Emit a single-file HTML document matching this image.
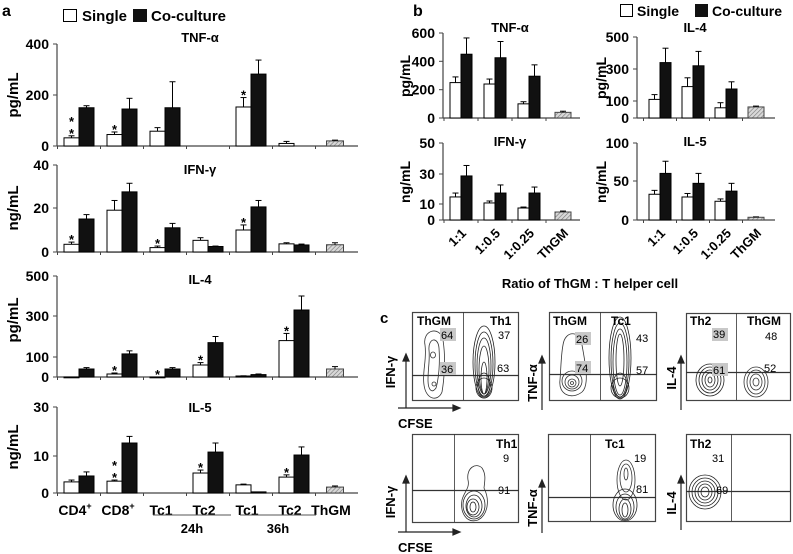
<!DOCTYPE html>
<html><head><meta charset="utf-8"><style>
html,body{margin:0;padding:0;background:#fff;}
svg{display:block;font-family:"Liberation Sans",Arial,sans-serif;}
.b{font-weight:bold;}
</style></head><body>
<svg id="fig" width="793" height="554" viewBox="0 0 793 554" xmlns="http://www.w3.org/2000/svg">
<defs>
<pattern id="hatch" patternUnits="userSpaceOnUse" width="3" height="3" patternTransform="rotate(45)">
<rect width="3" height="3" fill="#d8d8d8"/><line x1="0" y1="0" x2="0" y2="3" stroke="#777" stroke-width="1.2"/>
</pattern>
</defs>
<!-- panel labels and legends -->
<text x="2" y="16" class="b" font-size="16">a</text>
<g>
<rect x="63.5" y="9.5" width="13" height="12" fill="#fff" stroke="#000"/>
<text x="82" y="21" class="b" font-size="15">Single</text>
<rect x="133" y="9" width="14" height="13" fill="#111"/>
<text x="151" y="21" class="b" font-size="15">Co-culture</text>
</g>
<text x="413" y="16" class="b" font-size="16">b</text>
<g>
<rect x="620.5" y="4.5" width="12" height="12" fill="#fff" stroke="#000"/>
<text x="637" y="16" class="b" font-size="14">Single</text>
<rect x="695" y="4" width="13" height="13" fill="#111"/>
<text x="712" y="16" class="b" font-size="14">Co-culture</text>
</g>
<text x="590" y="288" class="b" font-size="13" text-anchor="middle">Ratio of ThGM : T helper cell</text>
<g id="charts"></g>
<!-- x labels for panel a -->
<g>
<line x1="153" y1="515" x2="231" y2="515" stroke="#555" stroke-width="1"/>
<line x1="240" y1="515" x2="316" y2="515" stroke="#555" stroke-width="1"/>
<text x="192" y="533" class="b" font-size="13" text-anchor="middle">24h</text>
<text x="278" y="533" class="b" font-size="13" text-anchor="middle">36h</text>
</g>
<!-- panel c -->
<text x="380" y="323" class="b" font-size="15">c</text>
<g id="panelc" fill="none" stroke="#333" stroke-width="0.8" font-size="11">
<!-- axis arrows -->
<g stroke="#222" stroke-width="1.2">
<line x1="406" y1="358" x2="406" y2="408"/><line x1="398" y1="408" x2="457" y2="408"/>
<polygon points="406,354 403,361 409,361" fill="#222"/><polygon points="460,408 453,405 453,411" fill="#222"/>
<line x1="406" y1="480" x2="406" y2="532"/><line x1="398" y1="532" x2="457" y2="532"/>
<polygon points="406,476 403,483 409,483" fill="#222"/><polygon points="460,532 453,529 453,535" fill="#222"/>
<line x1="542" y1="360" x2="542" y2="410"/><polygon points="542,356 539,363 545,363" fill="#222"/>
<line x1="542" y1="484" x2="542" y2="533"/><polygon points="542,480 539,487 545,487" fill="#222"/>
<line x1="681" y1="360" x2="681" y2="410"/><polygon points="681,356 678,363 684,363" fill="#222"/>
<line x1="681" y1="480" x2="681" y2="530"/><polygon points="681,476 678,483 684,483" fill="#222"/>
</g>
<g fill="#000" stroke="none" class="b" font-size="13">
<text transform="translate(395,372) rotate(-90)" text-anchor="middle">IFN-γ</text>
<text transform="translate(395,502) rotate(-90)" text-anchor="middle">IFN-γ</text>
<text transform="translate(537,383) rotate(-90)" text-anchor="middle">TNF-α</text>
<text transform="translate(537,508) rotate(-90)" text-anchor="middle">TNF-α</text>
<text transform="translate(676,378) rotate(-90)" text-anchor="middle">IL-4</text>
<text transform="translate(676,503) rotate(-90)" text-anchor="middle">IL-4</text>
<text x="398" y="428">CFSE</text>
<text x="398" y="552">CFSE</text>
</g>
<!-- plot 1 -->
<g>
<rect x="412.5" y="312.5" width="106" height="88" stroke="#444" stroke-width="1.2"/>
<line x1="463.5" y1="312" x2="463.5" y2="400" stroke="#333"/>
<line x1="412" y1="375.5" x2="519" y2="375.5" stroke="#333" stroke-width="1.2"/>
<path d="M425,345 C422,330 440,325 443,340 C446,360 444,380 442,392 C438,402 426,400 424,385 C422,372 427,360 425,345Z"/>
<path d="M429,350 C428,338 438,336 439,348 C440,362 439,378 436,388 C432,394 428,390 428,380 C428,368 430,360 429,350Z"/>
<ellipse cx="433" cy="355" rx="2.5" ry="3"/><ellipse cx="434" cy="384" rx="2" ry="2"/>
<g stroke="#222"><ellipse cx="484" cy="362" rx="11" ry="36"/><ellipse cx="484" cy="364" rx="9" ry="32"/><ellipse cx="484" cy="366" rx="7" ry="28"/><ellipse cx="484" cy="370" rx="5" ry="24"/><ellipse cx="484" cy="378" rx="3" ry="16"/><ellipse cx="484" cy="385" rx="6" ry="12"/><ellipse cx="484" cy="388" rx="8" ry="10"/></g>
<rect x="440" y="328" width="16" height="13" fill="#c8c8c8" stroke="none"/>
<rect x="440" y="362" width="16" height="13" fill="#c8c8c8" stroke="none"/>
<g fill="#000" stroke="none"><text x="417" y="325" class="b" font-size="12">ThGM</text><text x="490" y="325" class="b" font-size="12">Th1</text>
<text x="441" y="339">64</text><text x="441" y="373">36</text><text x="498" y="339">37</text><text x="497" y="372">63</text></g>
</g>
<!-- plot 2 -->
<g>
<rect x="549.5" y="312.5" width="107" height="88" stroke="#444" stroke-width="1.2"/>
<line x1="600.5" y1="312" x2="600.5" y2="400" stroke="#333"/>
<line x1="549" y1="374.5" x2="657" y2="374.5" stroke="#333" stroke-width="1.2"/>
<path d="M563,345 C565,330 580,330 582,345 C585,362 590,385 582,392 C572,400 558,395 560,380 C561,368 561,355 563,345Z"/>
<ellipse cx="572" cy="381" rx="10" ry="10"/><ellipse cx="572" cy="382" rx="7" ry="7"/><ellipse cx="572" cy="383" rx="4" ry="4"/><ellipse cx="572" cy="383" rx="1.5" ry="1.5"/>
<g stroke="#222"><ellipse cx="620" cy="358" rx="11" ry="41"/><ellipse cx="620" cy="360" rx="9" ry="37"/><ellipse cx="620" cy="362" rx="7" ry="33"/><ellipse cx="620" cy="360" rx="4" ry="26"/><ellipse cx="620" cy="385" rx="7" ry="12"/><ellipse cx="620" cy="388" rx="9" ry="10"/></g>
<rect x="575" y="332" width="16" height="13" fill="#c8c8c8" stroke="none"/>
<rect x="575" y="361" width="16" height="13" fill="#c8c8c8" stroke="none"/>
<g fill="#000" stroke="none"><text x="553" y="325" class="b" font-size="12">ThGM</text><text x="611" y="325" class="b" font-size="12">Tc1</text>
<text x="576" y="343">26</text><text x="576" y="372">74</text><text x="636" y="342">43</text><text x="636" y="374">57</text></g>
</g>
<!-- plot 3 -->
<g>
<rect x="686.5" y="313.5" width="104" height="87" stroke="#444" stroke-width="1.2"/>
<line x1="736.5" y1="313" x2="736.5" y2="400" stroke="#333"/>
<line x1="686" y1="372.5" x2="790" y2="372.5" stroke="#333" stroke-width="1.2"/>
<g stroke="#222"><ellipse cx="710" cy="380" rx="14" ry="16"/><ellipse cx="710" cy="380" rx="11" ry="13"/><ellipse cx="710" cy="380" rx="8" ry="10"/><ellipse cx="710" cy="380" rx="5" ry="7"/><ellipse cx="710" cy="380" rx="2" ry="3"/></g>
<g><ellipse cx="756" cy="382" rx="12" ry="15"/><ellipse cx="756" cy="382" rx="9" ry="12"/><ellipse cx="756" cy="382" rx="6" ry="8"/><ellipse cx="756" cy="382" rx="3" ry="4"/></g>
<rect x="712" y="328" width="16" height="13" fill="#c8c8c8" stroke="none"/>
<rect x="712" y="363" width="16" height="13" fill="#c8c8c8" stroke="none"/>
<g fill="#000" stroke="none"><text x="690" y="325" class="b" font-size="12">Th2</text><text x="747" y="325" class="b" font-size="12">ThGM</text>
<text x="713" y="338">39</text><text x="713" y="374">61</text><text x="765" y="340">48</text><text x="764" y="372">52</text></g>
</g>
<!-- plot 4 -->
<g>
<rect x="412.5" y="434.5" width="106" height="88" stroke="#444" stroke-width="1.2"/>
<line x1="454.5" y1="434" x2="454.5" y2="522" stroke="#333"/>
<line x1="412" y1="490.5" x2="519" y2="490.5" stroke="#333" stroke-width="1.2"/>
<path d="M468,480 C466,468 476,462 482,468 C486,474 485,480 484,488 C490,500 488,515 478,520 C466,524 460,512 462,500 C464,492 470,488 468,480Z"/>
<g stroke="#222"><ellipse cx="474" cy="505" rx="11" ry="14"/><ellipse cx="474" cy="506" rx="8" ry="11"/><ellipse cx="473" cy="507" rx="6" ry="8"/><ellipse cx="473" cy="507" rx="3" ry="5"/></g>
<g fill="#000" stroke="none"><text x="496" y="448" class="b" font-size="12">Th1</text><text x="503" y="462">9</text><text x="498" y="494">91</text></g>
</g>
<!-- plot 5 -->
<g>
<rect x="548.5" y="434.5" width="107" height="87" stroke="#444" stroke-width="1.2"/>
<line x1="590.5" y1="434" x2="590.5" y2="521" stroke="#333"/>
<line x1="548" y1="497.5" x2="656" y2="497.5" stroke="#333" stroke-width="1.2"/>
<ellipse cx="626" cy="480" rx="9" ry="20"/><ellipse cx="626" cy="478" rx="6" ry="14"/><ellipse cx="626" cy="474" rx="2" ry="6"/>
<g stroke="#222"><ellipse cx="625" cy="505" rx="12" ry="16"/><ellipse cx="625" cy="507" rx="9" ry="13"/><ellipse cx="625" cy="509" rx="6" ry="10"/><ellipse cx="625" cy="510" rx="3" ry="7"/></g>
<g fill="#000" stroke="none"><text x="605" y="448" class="b" font-size="12">Tc1</text><text x="634" y="462">19</text><text x="636" y="493">81</text></g>
</g>
<!-- plot 6 -->
<g>
<rect x="686.5" y="434.5" width="104" height="87" stroke="#444" stroke-width="1.2"/>
<line x1="731.5" y1="434" x2="731.5" y2="521" stroke="#333"/>
<line x1="686" y1="491.5" x2="790" y2="491.5" stroke="#333" stroke-width="1.2"/>
<g stroke="#222"><ellipse cx="705" cy="492" rx="16" ry="17"/><ellipse cx="705" cy="492" rx="13" ry="14"/><ellipse cx="705" cy="492" rx="10" ry="11"/><ellipse cx="705" cy="492" rx="7" ry="8"/><ellipse cx="705" cy="492" rx="4" ry="5"/></g>
<g fill="#000" stroke="none"><text x="690" y="448" class="b" font-size="12">Th2</text><text x="712" y="462">31</text><text x="716" y="494">69</text></g>
</g>
</g>
</svg>
<script>
// ---------- Panel a data ----------
const aGroups = ["CD4+", "CD8+", "Tc1", "Tc2", "Tc1", "Tc2"];
const aThgmLabel = "ThGM";
const aTnfSingle = [32, 45, 58, null, 153, 10];
const aTnfSingleErr = [40, 55, 72, null, 190, 18];
const aTnfCo = [150, 145, 150, null, 282, null];
const aTnfCoErr = [158, 187, 252, null, 337, null];
const aTnfThgm = [20, 23];
const aTnfStars = [2, 1, 0, 0, 1, 0];
const aTnfTicks = [0, 200, 400];

const aIfnSingle = [3.5, 19, 2, 5.3, 10, 3.7];
const aIfnSingleErr = [4.5, 23.5, 2.7, 6.5, 12.3, 4.2];
const aIfnCo = [15, 27.5, 11, 2.5, 20.5, 3.2];
const aIfnCoErr = [17, 31.5, 13, 2.7, 23.5, 3.6];
const aIfnThgm = [3.3, 4.2];
const aIfnStars = [1, 0, 1, 0, 1, 0];
const aIfnTicks = [0, 20, 40];

const aIl4Single = [0, 15, 0, 60, 5, 180];
const aIl4SingleErr = [0, 20, 0, 72, 6, 215];
const aIl4Co = [40, 115, 40, 170, 12, 330];
const aIl4CoErr = [47, 130, 47, 200, 15, 400];
const aIl4Thgm = [40, 52];
const aIl4Stars = [0, 1, 1, 1, 0, 1];
const aIl4Ticks = [0, 100, 300, 500];

const aIl5Single = [3.0, 3.2, null, 5.4, 2.2, 4.3];
const aIl5SingleErr = [3.5, 3.5, null, 6.2, 2.4, 4.9];
const aIl5Co = [4.6, 15.3, null, 11.6, 0.3, 10.4];
const aIl5CoErr = [5.7, 18, null, 15.3, 0.3, 13.7];
const aIl5Thgm = [1.6, 1.9];
const aIl5Stars = [0, 2, 0, 1, 0, 1];
const aIl5Ticks = [0, 10, 30];

// ---------- Panel b data ----------
const bRatios = ["1:1", "1:0.5", "1:0.25"];
const bTnfSingle = [250, 240, 100];
const bTnfSingleErr = [290, 275, 115];
const bTnfCo = [450, 425, 295];
const bTnfCoErr = [565, 540, 375];
const bTnfThgm = [40, 48];
const bTnfTicks = [0, 200, 400, 600];

const bIl4Single = [110, 190, 60];
const bIl4SingleErr = [140, 245, 90];
const bIl4Co = [340, 320, 175];
const bIl4CoErr = [430, 410, 220];
const bIl4Thgm = [65, 70];
const bIl4Ticks = [0, 100, 300, 500];

const bIfnSingle = [14.7, 10.7, 7.5];
const bIfnSingleErr = [17.3, 12, 8.1];
const bIfnCo = [28.7, 17.3, 17.3];
const bIfnCoErr = [35.5, 22.7, 21.3];
const bIfnThgm = [5, 5.6];
const bIfnTicks = [0, 10, 30, 50];

const bIl5Single = [33, 29.5, 24];
const bIl5SingleErr = [38, 34, 27];
const bIl5Co = [60, 47, 37];
const bIl5CoErr = [76, 60, 47];
const bIl5Thgm = [3.5, 4];
const bIl5Ticks = [0, 50, 100];

const NS = "http://www.w3.org/2000/svg";
const root = document.getElementById("charts");
function el(tag, attrs, parent) {
  const e = document.createElementNS(NS, tag);
  for (const k in attrs) e.setAttribute(k, attrs[k]);
  (parent || root).appendChild(e);
  return e;
}
// piecewise-linear y scale: pixel positions for first and last tick, with optional per-tick pixel positions
function makeY(ticks, px) {
  return v => {
    for (let i = 0; i < ticks.length - 1; i++) {
      if (v <= ticks[i + 1] || i === ticks.length - 2) {
        const t = (v - ticks[i]) / (ticks[i + 1] - ticks[i]);
        return px[i] + t * (px[i + 1] - px[i]);
      }
    }
  };
}

function drawChart(L, name, title, ylab, ticks, single, singleErr, co, coErr, thgm, stars, cats, catMode) {
  const g = el("g", {});
  
  
  const y = makeY(ticks, L.tickPx);
  const n = single.length;
  const x = i => L.x0 + i * L.step;
  const base = y(0);
  // axes
  el("line", {x1: L.axis, y1: base, x2: L.axis, y2: y(ticks[ticks.length - 1]), stroke: "#444", "stroke-width": 1.2}, g);
  el("line", {x1: L.axis, y1: base, x2: L.right, y2: base, stroke: "#444", "stroke-width": 1.2}, g);
  ticks.forEach(t => {
    const yy = y(t);
    el("line", {x1: L.axis - 4, y1: yy, x2: L.axis, y2: yy, stroke: "#444"}, g);
    const tx = el("text", {x: L.axis - 8, y: yy + L.fs * 0.36, "text-anchor": "end", "font-size": L.fs, "font-weight": "bold"}, g);
    
    
    tx.textContent = t;
  });
  for (let i = 0; i <= n; i++) {
    const xx = x(i) - L.step / 2;
    el("line", {x1: xx, y1: base, x2: xx, y2: base + 3, stroke: "#444"}, g);
  }
  const tt = el("text", {x: L.titleX, y: L.titleY, "text-anchor": "middle", "font-size": L.tfs, "font-weight": "bold"}, g);
  
  
  tt.textContent = title;
  const yl = el("text", {transform: `translate(${L.ylX},${L.ylY}) rotate(-90)`, "text-anchor": "middle", "font-size": L.yfs, "font-weight": "bold"}, g);
  
  
  yl.textContent = ylab;
  const w = L.bw;
  function bar(cx, v, e, fill, nm) {
    if (v === null) return null;
    const top = y(v);
    const r = el("rect", {x: cx, y: Math.min(top, base), width: w, height: Math.max(0.8, base - top), fill: fill, stroke: "#000", "stroke-width": 1}, g);
    
    
    const ye = y(e);
    if (e > v) {
      const mid = cx + w / 2;
      el("line", {x1: mid, y1: top, x2: mid, y2: ye, stroke: "#000", "stroke-width": 1}, g);
      el("line", {x1: mid - 3, y1: ye, x2: mid + 3, y2: ye, stroke: "#000", "stroke-width": 1}, g);
    }
    return ye;
  }
  for (let i = 0; i < n; i++) {
    const c = x(i);
    const ys = bar(c - w, single[i], singleErr[i], "#fff", "bar-single");
    bar(c, co[i], coErr[i], "#111", "bar-coculture");
    if (stars && stars[i]) {
      const sy = (ys !== null && ys !== undefined ? ys : base) - 4;
      for (let k = 0; k < stars[i]; k++) {
        const st = el("text", {x: c - w / 2, y: sy - k * 12 + 6, "text-anchor": "middle", "font-size": 13, "font-weight": "bold"}, g);
        
        
        st.textContent = "*";
      }
    }
    if (cats) catLabel(g, L, c, base, cats[i], catMode);
  }
  // ThGM hatched bar
  const cT = x(n) + L.thOff;
  const top = y(thgm[0]);
  const hb = el("rect", {x: cT - L.thw / 2, y: top, width: L.thw, height: base - top, fill: "url(#hatch)", stroke: "#444", "stroke-width": 1}, g);
  
  
  const ye = y(thgm[1]);
  el("line", {x1: cT, y1: top, x2: cT, y2: ye, stroke: "#000"}, g);
  el("line", {x1: cT - 3, y1: ye, x2: cT + 3, y2: ye, stroke: "#000"}, g);
  if (cats) catLabel(g, L, cT, base, aThgmLabel, catMode);
}
function catLabel(g, L, cx, base, txt, mode) {
  let t;
  if (mode === "rot") {
    t = el("text", {transform: `translate(${cx + 6},${base + 14}) rotate(-45)`, "text-anchor": "end", "font-size": 13, "font-weight": "bold"}, g);
  } else {
    t = el("text", {x: cx - 4, y: base + 22, "text-anchor": "middle", "font-size": 14, "font-weight": "bold"}, g);
  }
  
  
  if (txt.endsWith("+")) {
    t.textContent = txt.slice(0, -1);
    const sup = el("tspan", {dy: -6, "font-size": 9}, t);
    sup.textContent = "+";
  } else t.textContent = txt;
}

const LA = {axis: 57, right: 358, x0: 79, step: 43, bw: 15, thw: 17, thOff: -2, fs: 14, tfs: 13, yfs: 15, titleX: 200, ylX: 18};
drawChart(Object.assign({}, LA, {tickPx: [146, 95, 44], titleY: 42, ylY: 95}), "chart-a-tnf", "TNF-α", "pg/mL", aTnfTicks, aTnfSingle, aTnfSingleErr, aTnfCo, aTnfCoErr, aTnfThgm, aTnfStars);
drawChart(Object.assign({}, LA, {tickPx: [252, 208, 165], titleY: 174, ylY: 208}), "chart-a-ifng", "IFN-γ", "ng/mL", aIfnTicks, aIfnSingle, aIfnSingleErr, aIfnCo, aIfnCoErr, aIfnThgm, aIfnStars);
drawChart(Object.assign({}, LA, {tickPx: [377, 357, 316, 276], titleY: 284, ylY: 320}), "chart-a-il4", "IL-4", "pg/mL", aIl4Ticks, aIl4Single, aIl4SingleErr, aIl4Co, aIl4CoErr, aIl4Thgm, aIl4Stars);
drawChart(Object.assign({}, LA, {tickPx: [493, 456, 407], titleY: 412, ylY: 447}), "chart-a-il5", "IL-5", "ng/mL", aIl5Ticks, aIl5Single, aIl5SingleErr, aIl5Co, aIl5CoErr, aIl5Thgm, aIl5Stars, aGroups, "flat");

const LB1 = {axis: 443, right: 580, x0: 461, step: 34, bw: 11, thw: 16, thOff: 0, fs: 14, tfs: 13, yfs: 14, titleX: 510, ylX: 410};
const LB2 = {axis: 637, right: 775, x0: 660, step: 33, bw: 11, thw: 16, thOff: -3, fs: 14, tfs: 13, yfs: 14, titleX: 695, ylX: 606};
drawChart(Object.assign({}, LB1, {tickPx: [118, 89.7, 61.3, 33], titleY: 32, ylY: 76}), "chart-b-tnf", "TNF-α", "pg/mL", bTnfTicks, bTnfSingle, bTnfSingleErr, bTnfCo, bTnfCoErr, bTnfThgm, null);
drawChart(Object.assign({}, LB2, {tickPx: [118, 101, 69, 37], titleY: 32, ylY: 78}), "chart-b-il4", "IL-4", "pg/mL", bIl4Ticks, bIl4Single, bIl4SingleErr, bIl4Co, bIl4CoErr, bIl4Thgm, null);
drawChart(Object.assign({}, LB1, {tickPx: [220, 204, 174, 143], titleY: 146, ylY: 182}), "chart-b-ifng", "IFN-γ", "ng/mL", bIfnTicks, bIfnSingle, bIfnSingleErr, bIfnCo, bIfnCoErr, bIfnThgm, null, bRatios, "rot");
drawChart(Object.assign({}, LB2, {tickPx: [220, 181, 143], titleY: 146, ylY: 182}), "chart-b-il5", "IL-5", "ng/mL", bIl5Ticks, bIl5Single, bIl5SingleErr, bIl5Co, bIl5CoErr, bIl5Thgm, null, bRatios, "rot");
</script>
</body></html>
